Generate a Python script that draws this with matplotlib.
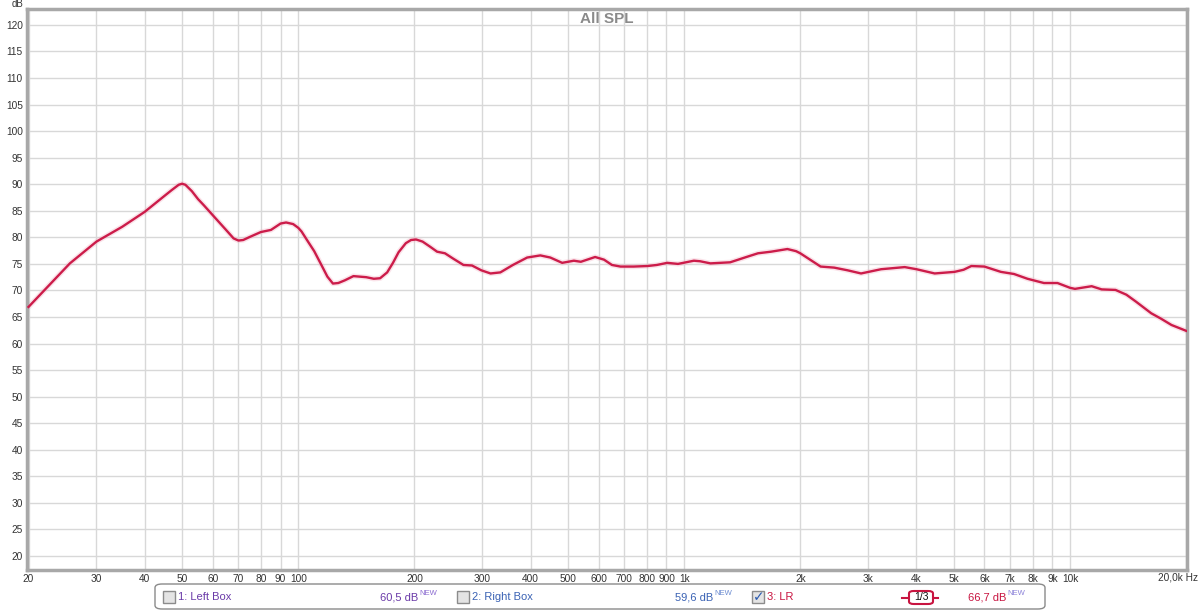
import numpy as np
import matplotlib
matplotlib.use("Agg")
import matplotlib.pyplot as plt
from matplotlib.patches import FancyBboxPatch, Rectangle

plt.rcParams["font.family"] = ["Liberation Sans", "DejaVu Sans"]

# values
freq = [20, 25.6, 30, 35, 40, 45, 47, 49, 50, 51, 53, 55, 57, 60, 65, 68, 70,
        72, 75, 80, 85, 90, 93, 97, 100, 102, 106, 110, 115, 119, 123, 127,
        132, 139, 150, 157, 163, 170, 176, 182, 190, 196, 202, 210, 220, 229,
        240, 252, 268, 282, 298, 315, 334, 360, 392, 424, 450, 483, 518, 540,
        588, 620, 650, 684, 740, 804, 850, 904, 964, 1060, 1100, 1170, 1316,
        1450, 1554, 1680, 1852, 1950, 2000, 2120, 2258, 2448, 2650, 2874, 3240,
        3730, 4000, 4460, 5020, 5300, 5550, 6000, 6620, 7160, 7760, 8560, 9280,
        10000, 10300, 11380, 12080, 13120, 14000, 14820, 16240, 17200, 18320,
        20000]
spl = [66.9, 75.1, 79.2, 82.0, 84.8, 87.8, 88.9, 89.9, 90.1, 89.9, 88.7, 87.2,
       86.0, 84.2, 81.4, 79.8, 79.4, 79.5, 80.1, 81.0, 81.4, 82.6, 82.8, 82.5,
       81.8, 81.1, 79.2, 77.4, 74.7, 72.6, 71.3, 71.4, 71.9, 72.7, 72.5, 72.2,
       72.3, 73.4, 75.2, 77.2, 78.9, 79.5, 79.6, 79.2, 78.2, 77.3, 77.0, 76.0,
       74.8, 74.7, 73.8, 73.2, 73.4, 74.8, 76.2, 76.6, 76.2, 75.2, 75.6, 75.4,
       76.3, 75.8, 74.8, 74.5, 74.5, 74.6, 74.8, 75.2, 75.0, 75.6, 75.5, 75.1,
       75.3, 76.3, 77.0, 77.3, 77.8, 77.4, 77.0, 75.8, 74.5, 74.3, 73.8, 73.2,
       74.0, 74.4, 74.0, 73.2, 73.5, 73.9, 74.6, 74.5, 73.5, 73.1, 72.2, 71.4,
       71.4, 70.5, 70.3, 70.8, 70.2, 70.1, 69.2, 67.9, 65.7, 64.7, 63.5, 62.4]

xticks = [20, 30, 40, 50, 60, 70, 80, 90, 100, 200, 300, 400, 500, 600, 700,
          800, 900, 1000, 2000, 3000, 4000, 5000, 6000, 7000, 8000, 9000, 10000]
xlabels = ["20", "30", "40", "50", "60", "70", "80", "90", "100", "200", "300",
           "400", "500", "600", "700", "800", "900", "1k", "2k", "3k", "4k",
           "5k", "6k", "7k", "8k", "9k", "10k"]
yticks = list(range(20, 125, 5))

legend_names = ["1: Left Box", "2: Right Box", "3: LR"]
legend_levels = ["60,5 dB", "59,6 dB", "66,7 dB"]
legend_checked = [False, False, True]

W, H = 1200, 611
fig = plt.figure(figsize=(12, 6.11), dpi=100)
fig.patch.set_facecolor("white")


def px(x, y):
    return x / W, 1 - y / H


ax = fig.add_axes([27 / W, 1 - 570 / H, 1160 / W, 561 / H])
ax.set_xscale("log")
ax.set_xlim(19.82, 20100)
ax.set_ylim(17.36, 123.0)

for f in xticks + [20000]:
    ax.axvline(f, color="#d8d8d8", lw=1, zorder=0)
for v in yticks:
    ax.axhline(v, color="#d8d8d8", lw=1, zorder=0)

ax.plot(freq, spl, color="#f2b0c2", lw=3.8, alpha=0.35, zorder=2,
        solid_capstyle="round")
ax.plot(freq, spl, color="#cc1c4a", lw=1.7, zorder=3, solid_joinstyle="round")

ax.set_xticks(xticks)
ax.set_xticklabels(xlabels)
ax.xaxis.set_minor_locator(matplotlib.ticker.NullLocator())
ax.set_yticks(yticks)
ax.set_yticklabels([str(v) for v in yticks])
ax.tick_params(axis="both", length=0, labelsize=7.3, colors="#333333")
ax.tick_params(axis="x", pad=3)
ax.tick_params(axis="y", pad=3)

for s in ax.spines.values():
    s.set_color("#a8a8a8")
    s.set_linewidth(2.5)

ax.text(0.5, 0.995, "All SPL", transform=ax.transAxes, ha="center", va="top",
        fontsize=11, fontweight="bold", color="#8a8a8a")

fig.text(*px(18, 4), "dB", fontsize=7, color="#333333", ha="center", va="center")
fig.text(*px(1198, 577), "20,0k Hz", fontsize=7.3, color="#333333",
         ha="right", va="center")

# legend panel
box = FancyBboxPatch(px(155, 609), 890 / W, 25 / H,
                     boxstyle="round,pad=0,rounding_size=0.006",
                     transform=fig.transFigure, facecolor="white",
                     edgecolor="#8a8a8a", lw=1)
fig.patches.append(box)

name_colors = ["#6a3aa8", "#3a62b4", "#c81440"]
level_colors = ["#6a3aa8", "#3a62b4", "#c81440"]
new_colors = ["#8a6ad0", "#6a8ad0", "#8a80d8"]
box_x = [163, 457, 752]
level_x = [380, 675, 968]
for i in range(3):
    x0 = box_x[i]
    cb = Rectangle(px(x0, 603), 12 / W, 12 / H, transform=fig.transFigure,
                   facecolor="#e4e4e4", edgecolor="#8c8c8c", lw=1)
    fig.patches.append(cb)
    if legend_checked[i]:
        fig.text(*px(x0 + 6.5, 597), "\u2713", fontsize=10, color="#2a5ab0",
                 ha="center", va="center", fontweight="bold",
                 family="DejaVu Sans")
    fig.text(*px(x0 + 15, 597.5), legend_names[i], fontsize=8,
             color=name_colors[i], ha="left", va="center")
    t = fig.text(*px(level_x[i], 597.5), legend_levels[i], fontsize=8,
                 color=level_colors[i], ha="left", va="center")
    fig.add_artist(matplotlib.text.Annotation(
        "NEW", xy=(1, 1), xycoords=t, xytext=(0.5, 1.5),
        textcoords="offset points", fontsize=5.5, color=new_colors[i],
        ha="left", va="top"))

# smoothing indicator
fig.lines.append(plt.Line2D([px(902, 0)[0], px(938, 0)[0]],
                            [px(0, 597.5)[1]] * 2, transform=fig.transFigure,
                            color="#c81440", lw=1.5, zorder=2))
sm = FancyBboxPatch(px(909, 604), 24 / W, 13 / H,
                    boxstyle="round,pad=0,rounding_size=0.004",
                    transform=fig.transFigure, facecolor="white",
                    edgecolor="#c81440", lw=1.5, zorder=3)
fig.patches.append(sm)
fig.text(*px(921, 597.5), "1/3", fontsize=7.5, color="#111111",
         ha="center", va="center", zorder=4)

fig.savefig("out.png", dpi=100, facecolor="white")
